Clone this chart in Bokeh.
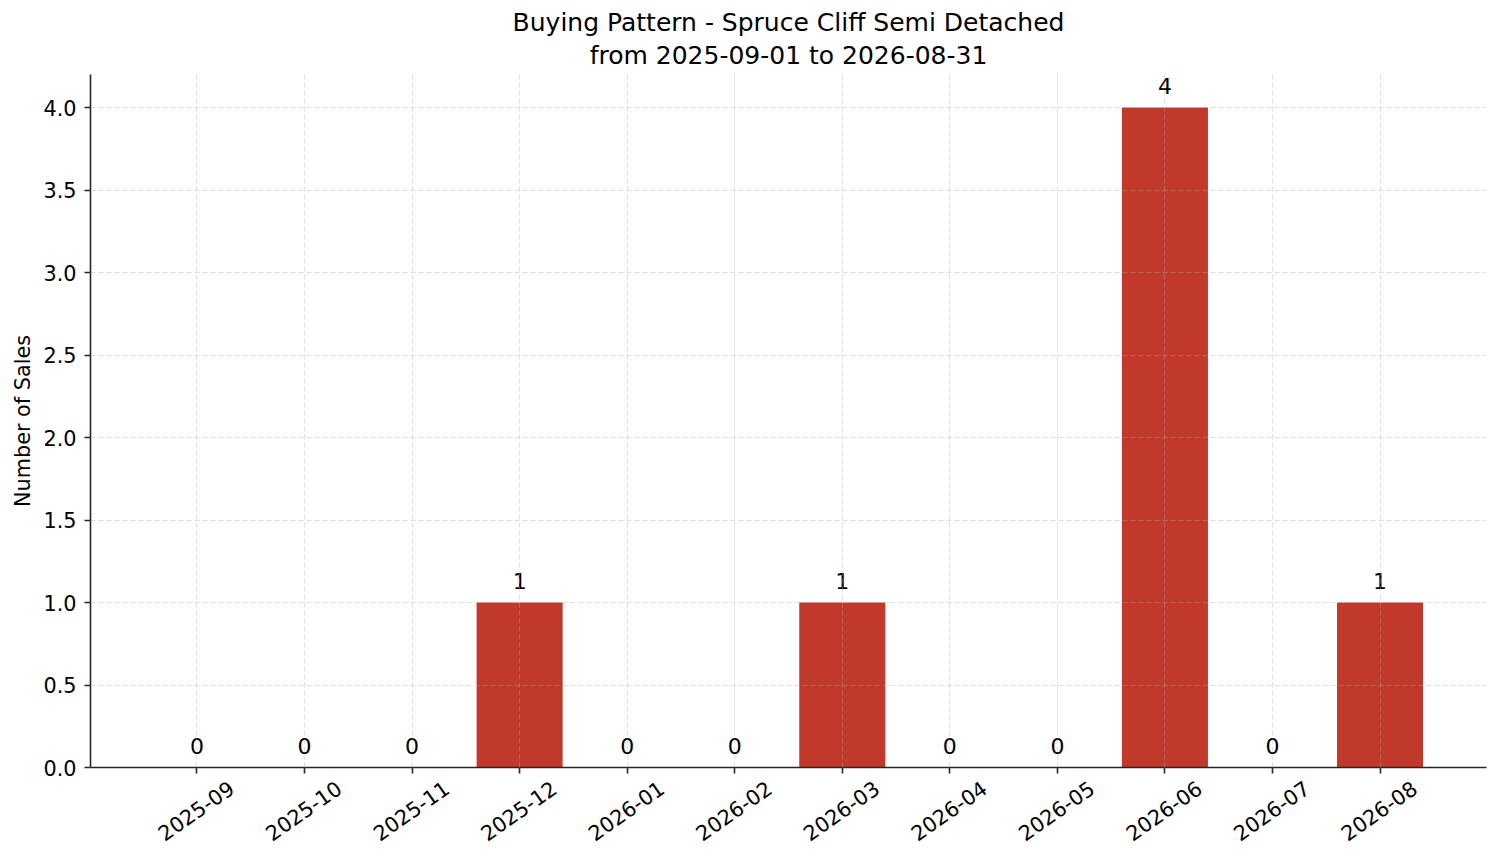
from bokeh.core.properties import value
from bokeh.embed import file_html
from bokeh.models import (ColumnDataSource, FixedTicker, LinearAxis,
                          NumeralTickFormatter, Range1d, Title)
from bokeh.plotting import figure
from bokeh.resources import INLINE

FONT = "DejaVu Sans"

TITLE = "Buying Pattern - Spruce Cliff Semi Detached"
SUBTITLE = "from 2025-09-01 to 2026-08-31"

months = ["2025-09", "2025-10", "2025-11", "2025-12", "2026-01", "2026-02",
          "2026-03", "2026-04", "2026-05", "2026-06", "2026-07", "2026-08"]
sales = [0, 0, 0, 1, 0, 0, 1, 0, 0, 4, 0, 1]
y_ticks = [0.0, 0.5, 1.0, 1.5, 2.0, 2.5, 3.0, 3.5, 4.0]

# bars sit at integer positions 0..n-1, month names go on as tick labels
pos = list(range(len(months)))
source = ColumnDataSource(dict(x=pos, month=months, sales=sales,
                               label=[str(s) for s in sales]))

p = figure(
    x_range=Range1d(-0.99, len(months) - 0.01),
    y_range=Range1d(0, 4.2),
    width=1500, height=862,
    title=None,
    toolbar_location=None,
    output_backend="svg",
    min_border_left=90, min_border_right=14, min_border_top=74, min_border_bottom=95,
)
p.outline_line_color = None
p.background_fill_color = "white"

p.vbar(x="x", top="sales", width=0.8, source=source,
       fill_color="#c0392b", line_color=None)
p.text(x="x", y="sales", text="label", source=source,
       text_align="center", text_baseline="alphabetic", y_offset=-22,
       text_font=value(FONT), text_font_size="22px", text_color="black")

# two centred title lines (first added sits closest to the plot)
for txt, gap in ((SUBTITLE, 10), (TITLE, -6)):
    p.add_layout(Title(text=txt, align="center", text_font=FONT,
                       text_font_size="25px", text_font_style="normal",
                       text_color="black", standoff=gap, offset=0), "above")

# grid drawn over the bars, like matplotlib
p.xgrid.ticker = FixedTicker(ticks=pos)
for g in (p.xgrid, p.ygrid):
    g.level = "overlay"
    g.grid_line_color = "#b0b0b0"
    g.grid_line_alpha = 0.5
    g.grid_line_width = 0.8
    g.grid_line_dash = "5 3"

ax_color = "#262626"

# the default x axis is hidden; a shifted axis below carries line, ticks, labels
p.xaxis.visible = False

yax = p.yaxis[0]
yax.ticker = FixedTicker(ticks=y_ticks)
yax.formatter = NumeralTickFormatter(format="0.0")
yax.axis_label = "Number of Sales"
yax.axis_label_text_font = FONT
yax.axis_label_text_font_size = "20.8px"
yax.axis_label_text_font_style = "normal"
yax.axis_label_text_color = "black"
yax.axis_label_standoff = 5
yax.major_label_standoff = 8
yax.axis_line_color = ax_color
yax.axis_line_width = 1.6
yax.major_tick_line_color = ax_color
yax.major_tick_line_width = 1.6
yax.major_tick_out = 6
yax.major_tick_in = 0
yax.minor_tick_line_color = None
yax.major_label_text_font = FONT
yax.major_label_text_font_size = "20.8px"
yax.major_label_text_color = "black"

# label axis range is shifted so rotated labels are centred under the bars;
# its minor ticks (shifted back) land on the bar centres
shift = 0.32
p.extra_x_ranges = {"labels": Range1d(-0.99 - shift, len(months) - 0.01 - shift)}
lab_axis = LinearAxis(
    x_range_name="labels",
    ticker=FixedTicker(ticks=pos, minor_ticks=[i - shift for i in pos]),
    major_label_overrides={i: m for i, m in zip(pos, months)},
    major_label_orientation=0.6109,
    major_label_text_font=FONT,
    major_label_text_font_size="20.8px",
    major_label_text_color="black",
    major_label_standoff=12,
    axis_line_color=ax_color,
    axis_line_width=1.6,
    major_tick_line_color=None,
    major_tick_out=6,
    major_tick_in=0,
    minor_tick_line_color=ax_color,
    minor_tick_line_width=1.6,
    minor_tick_out=6,
    minor_tick_in=0,
)
p.add_layout(lab_axis, "below")

open("out.html", "w").write(file_html(p, INLINE))
